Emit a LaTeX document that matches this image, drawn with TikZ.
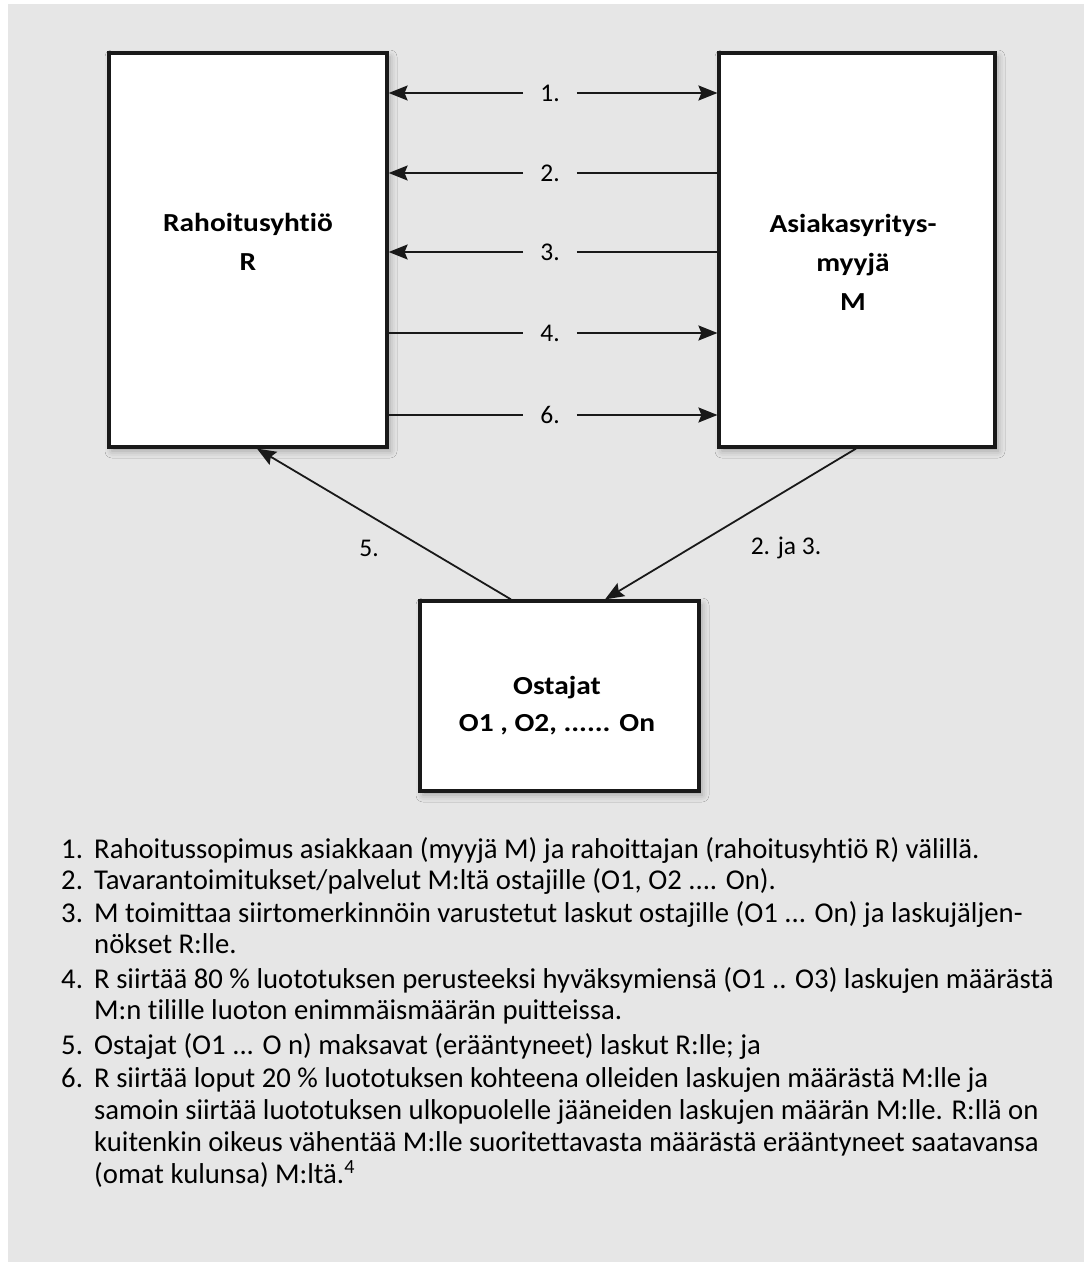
\documentclass[tikz,border=0pt]{standalone}
\usepackage{fontspec}
\setmainfont{Carlito}[Ligatures=NoCommon]
\newfontfamily\boxfont{Carlito}[FakeStretch=1.13,Ligatures=NoCommon]
\usetikzlibrary{arrows.meta,shadows.blur}
\definecolor{bg}{HTML}{E6E6E6}
\tikzset{
  x=1pt,y=-1pt,
  box/.style={draw=black!90,line width=3.2pt,fill=white,inner sep=0pt,
    blur shadow={shadow xshift=3pt,shadow yshift=-4pt,shadow blur radius=7pt,shadow opacity=30}},
  boxtxt/.style={align=center,inner sep=0pt,font=\boxfont\bfseries\fontsize{26}{39}\selectfont},
  lbl/.style={inner xsep=17pt,inner ysep=0pt,font=\fontsize{25.5}{27}\selectfont},
  conn/.style={line width=1.8pt,draw=black!90},
  tip/.style={-{Stealth[length=19pt,width=15pt,inset=3pt]}},
  num/.style={anchor=base west,inner sep=0pt,font=\fontsize{28.7}{31}\selectfont},
  itemtxt/.style={anchor=base west,inner sep=0pt,font=\fontsize{28.7}{31}\selectfont}
}
\begin{document}
\begin{tikzpicture}
\useasboundingbox (0,0) rectangle (1090,1265);
\fill[white] (0,0) rectangle (1090,1265);
\fill[bg] (8,4) rectangle (1084,1262);

% boxes
\node[box,minimum width=278pt,minimum height=394pt] (R) at (248,250) {};
\node[box,minimum width=276pt,minimum height=394pt] (M) at (857,250) {};
\node[box,minimum width=279pt,minimum height=190pt] (O) at (559.5,696) {};

\node[boxtxt] (Rt) at (248,242) {Rahoitusyhtiö\\R};
\node[boxtxt] (Mt) at (853,262) {Asiakasyritys-\\myyjä\\M};
\node[boxtxt,font=\boxfont\bfseries\fontsize{26}{37}\selectfont] (Ot) at (557,706) {Ostajat\\O1 , O2, ...... On};

% horizontal labels
\node[lbl] (l1) at (550,93) {1.};
\node[lbl] (l2) at (550,173) {2.};
\node[lbl] (l3) at (550,252) {3.};
\node[lbl] (l4) at (550,333) {4.};
\node[lbl] (l6) at (550,415) {6.};

\draw[conn,tip] (l1.west) -- (R.east |- l1);
\draw[conn,tip] (l1.east) -- (M.west |- l1);
\draw[conn,tip] (l2.west) -- (R.east |- l2);
\draw[conn] (l2.east) -- (M.west |- l2);
\draw[conn,tip] (l3.west) -- (R.east |- l3);
\draw[conn] (l3.east) -- (M.west |- l3);
\draw[conn] (R.east |- l4) -- (l4.west);
\draw[conn,tip] (l4.east) -- (M.west |- l4);
\draw[conn] (R.east |- l6) -- (l6.west);
\draw[conn,tip] (l6.east) -- (M.west |- l6);

% diagonal arrows
\coordinate (c5s) at (511,0);
\coordinate (c5e) at (257,0);
\coordinate (c23s) at (856,0);
\coordinate (c23e) at (605,0);
\draw[conn,tip] (O.north -| c5s) -- (R.south -| c5e);
\draw[conn,tip] (M.south -| c23s) -- (O.north -| c23e);
\node[lbl,inner xsep=0pt] (d5) at (369,548) {5.};
\node[lbl,inner xsep=0pt] (d23) at (786,548) {2. ja 3.};

% list
\node[num] (n1) at (61,858) {1.};
\node[itemtxt] (t1) at (94,858) {Rahoitussopimus asiakkaan (myyjä M) ja rahoittajan (rahoitusyhtiö R) välillä.};
\node[num] (n2) at (61,889) {2.};
\node[itemtxt] (t2) at (94,889) {Tavarantoimitukset/palvelut M:ltä ostajille (O1, O2 .... On).};
\node[num] (n3) at (61,922) {3.};
\node[itemtxt] (t3) at (94,922) {M toimittaa siirtomerkinnöin varustetut laskut ostajille (O1 ... On) ja laskujäljen-};
\node[itemtxt] (t3b) at (94,953) {nökset R:lle.};
\node[num] (n4) at (61,988) {4.};
\node[itemtxt] (t4) at (94,988) {R siirtää 80 \% luototuksen perusteeksi hyväksymiensä (O1 .. O3) laskujen määrästä};
\node[itemtxt] (t4b) at (94,1019) {M:n tilille luoton enimmäismäärän puitteissa.};
\node[num] (n5) at (61,1054) {5.};
\node[itemtxt] (t5) at (94,1054) {Ostajat (O1 ... O n) maksavat (erääntyneet) laskut R:lle; ja};
\node[num] (n6) at (61,1087) {6.};
\node[itemtxt] (t6) at (94,1087) {R siirtää loput 20 \% luototuksen kohteena olleiden laskujen määrästä M:lle ja};
\node[itemtxt] (t6b) at (94,1119) {samoin siirtää luototuksen ulkopuolelle jääneiden laskujen määrän M:lle. R:llä on};
\node[itemtxt] (t6c) at (94,1151) {kuitenkin oikeus vähentää M:lle suoritettavasta määrästä erääntyneet saatavansa};
\node[itemtxt] (t6d) at (94,1183) {(omat kulunsa) M:ltä.\textsuperscript{4}};
\end{tikzpicture}
\end{document}
